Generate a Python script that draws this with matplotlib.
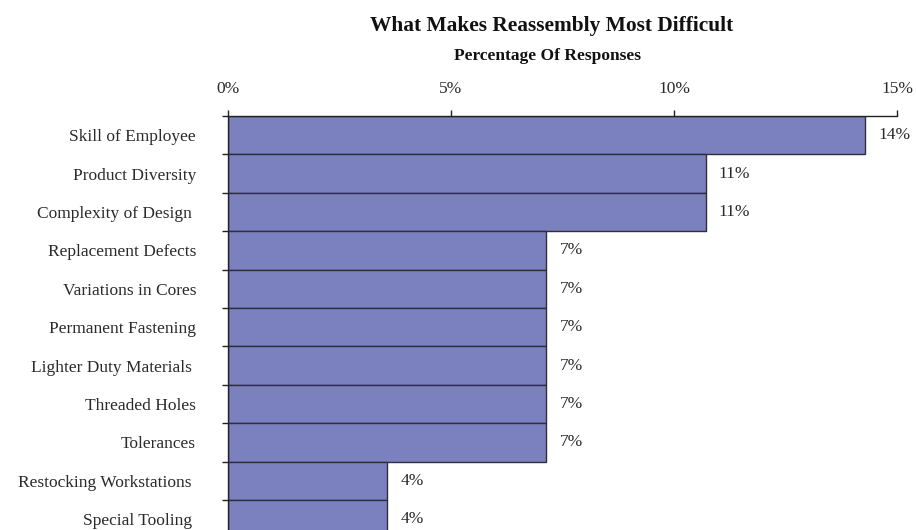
import matplotlib
matplotlib.use("Agg")
import matplotlib.pyplot as plt
import numpy as np

categories = ["Skill of Employee", "Product Diversity", "Complexity of Design ",
              "Replacement Defects", "Variations in Cores", "Permanent Fastening",
              "Lighter Duty Materials ", "Threaded Holes", "Tolerances",
              "Restocking Workstations ", "Special Tooling "]
values = [14.29, 10.71, 10.71, 7.14, 7.14, 7.14, 7.14, 7.14, 7.14, 3.57, 3.57]
xticks = [0, 5, 10, 15]
xticklabels = ["0%", "5%", "10%", "15%"]
title = "What Makes Reassembly Most Difficult"
subtitle = "Percentage Of Responses"

W, H = 916, 530
fig = plt.figure(figsize=(W / 100, H / 100), dpi=100)
plt.rcParams['font.family'] = ['Liberation Serif', 'DejaVu Serif']

left, right, top, bottom = 228, 897, 116, 538.4
ax = fig.add_axes([left / W, 1 - bottom / H, (right - left) / W, (bottom - top) / H])

y = np.arange(len(categories))
ax.barh(y, values, height=1.0, color="#7B80BE", edgecolor="#2f2f3a", linewidth=1.0)
ax.set_ylim(len(categories) - 0.5, -0.5)
ax.set_xlim(0, 15)

for yi, v in zip(y, values):
    ax.text(v + 0.29, yi, f"{v:.0f}%", va="center", ha="left", fontsize=12.5, color="#2a2a2a")

ax.xaxis.tick_top()
ax.set_xticks(xticks)
ax.set_xticklabels(xticklabels, fontsize=12.5, color="#2a2a2a")
ax.tick_params(axis="x", direction="out", length=4.5, width=1, pad=9, color="#222222")

ax.set_yticks(np.arange(len(categories) + 1) - 0.5, minor=True)
ax.set_yticks(y)
ax.set_yticklabels(categories, fontsize=12.5, color="#2a2a2a")
ax.tick_params(axis="y", which="major", length=0, pad=23)
ax.tick_params(axis="y", which="minor", direction="out", length=4, width=1, color="#222222")

for s in ["right", "bottom"]:
    ax.spines[s].set_visible(False)
for s in ["top", "left"]:
    ax.spines[s].set_color("#222222")
    ax.spines[s].set_linewidth(1.0)

fig.text(552 / W, 1 - 26 / H, title, ha="center", va="center", fontsize=15.4, fontweight="bold", color="#111111")
fig.text(548 / W, 1 - 56 / H, subtitle, ha="center", va="center", fontsize=12.5, fontweight="bold", color="#111111")

fig.savefig("out.png", dpi=100)
